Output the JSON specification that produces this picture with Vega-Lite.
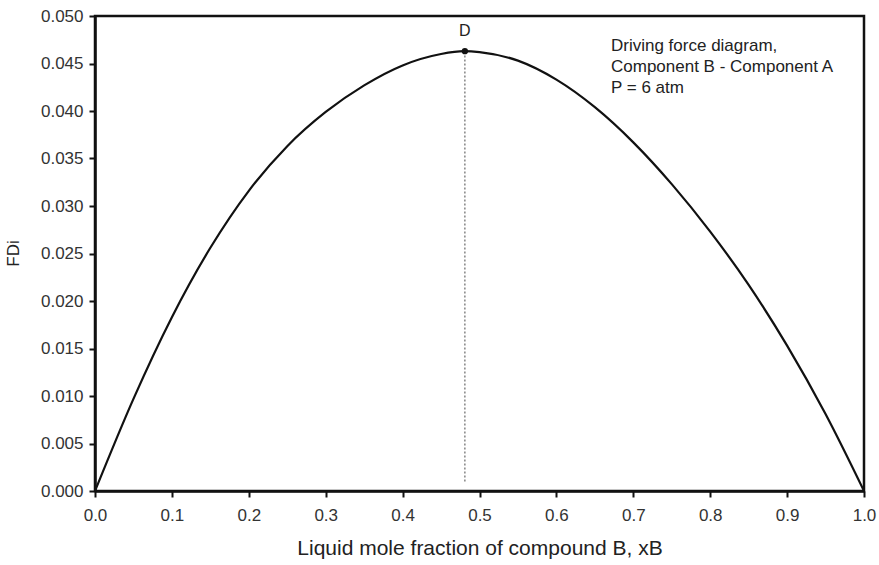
{
  "$schema": "https://vega.github.io/schema/vega-lite/v6.json",
  "autosize": {"type": "none"},
  "width": 769,
  "height": 475,
  "padding": {"left": 95, "top": 16, "right": 15, "bottom": 74},
  "background": "white",
  "config": {
    "view": {"stroke": "#111", "strokeWidth": 2.5},
    "font": "Liberation Sans",
    "axis": {
      "domainColor": "#111", "domainWidth": 2.5, "tickColor": "#111", "tickWidth": 2, "tickSize": 6,
      "labelFont": "Liberation Sans", "labelFontSize": 17, "labelColor": "#333", "labelFlush": false,
      "titleFont": "Liberation Sans", "titleFontWeight": "normal", "titleColor": "#222",
      "grid": false
    }
  },
  "datasets": {
    "curve": [
      {"xB": 0.00, "FDi": 0.0},
      {"xB": 0.05, "FDi": 0.0097},
      {"xB": 0.10, "FDi": 0.0183},
      {"xB": 0.15, "FDi": 0.0256},
      {"xB": 0.20, "FDi": 0.0316},
      {"xB": 0.25, "FDi": 0.0363},
      {"xB": 0.30, "FDi": 0.0399},
      {"xB": 0.35, "FDi": 0.0427},
      {"xB": 0.40, "FDi": 0.0448},
      {"xB": 0.45, "FDi": 0.0460},
      {"xB": 0.48, "FDi": 0.0463},
      {"xB": 0.50, "FDi": 0.0462},
      {"xB": 0.55, "FDi": 0.0453},
      {"xB": 0.60, "FDi": 0.0433},
      {"xB": 0.65, "FDi": 0.0404},
      {"xB": 0.70, "FDi": 0.0367},
      {"xB": 0.75, "FDi": 0.0323},
      {"xB": 0.80, "FDi": 0.0273},
      {"xB": 0.85, "FDi": 0.0217},
      {"xB": 0.90, "FDi": 0.0153},
      {"xB": 0.95, "FDi": 0.0081},
      {"xB": 1.00, "FDi": 0.0}
    ],
    "peak": [{"xB": 0.481, "FDi": 0.0463, "FDi0": 0.001, "label": "D", "labelY": 0.0484}],
    "note": [
      {"xB": 0.671, "FDi": 0.0468, "text": "Driving force diagram,"},
      {"xB": 0.671, "FDi": 0.0446, "text": "Component B - Component A"},
      {"xB": 0.671, "FDi": 0.0424, "text": "P = 6 atm"}
    ]
  },
  "layer": [
    {
      "data": {"name": "curve"},
      "mark": {"type": "line", "color": "#111", "strokeWidth": 2.2, "interpolate": "monotone"},
      "encoding": {
        "x": {"field": "xB", "type": "quantitative",
              "scale": {"domain": [0, 1], "nice": false},
              "axis": {"values": [0, 0.1, 0.2, 0.3, 0.4, 0.5, 0.6, 0.7, 0.8, 0.9, 1.0], "format": ".1f",
                       "labelPadding": 10, "title": "Liquid mole fraction of compound B, xB",
                       "titleFontSize": 21, "titleY": 57, "titleBaseline": "middle"}},
        "y": {"field": "FDi", "type": "quantitative",
              "scale": {"domain": [0, 0.05], "nice": false, "zero": true},
              "axis": {"values": [0, 0.005, 0.01, 0.015, 0.02, 0.025, 0.03, 0.035, 0.04, 0.045, 0.05], "format": ".3f",
                       "labelPadding": 6, "title": "FDi", "titleFontSize": 17,
                       "titleX": -82, "titleY": 237, "titleAngle": -90, "titleAlign": "center", "titleBaseline": "middle"}}
      }
    },
    {
      "data": {"name": "peak"},
      "mark": {"type": "rule", "color": "#666", "strokeWidth": 1.2, "strokeDash": [2, 2]},
      "encoding": {
        "x": {"field": "xB", "type": "quantitative"},
        "y": {"field": "FDi0", "type": "quantitative"},
        "y2": {"field": "FDi"}
      }
    },
    {
      "data": {"name": "peak"},
      "mark": {"type": "point", "filled": true, "color": "#111", "size": 40, "opacity": 1},
      "encoding": {
        "x": {"field": "xB", "type": "quantitative"},
        "y": {"field": "FDi", "type": "quantitative"}
      }
    },
    {
      "data": {"name": "peak"},
      "mark": {"type": "text", "fontSize": 16, "color": "#222", "baseline": "middle", "align": "center"},
      "encoding": {
        "x": {"field": "xB", "type": "quantitative"},
        "y": {"field": "labelY", "type": "quantitative"},
        "text": {"field": "label"}
      }
    },
    {
      "data": {"name": "note"},
      "mark": {"type": "text", "fontSize": 17, "color": "#222", "baseline": "middle", "align": "left"},
      "encoding": {
        "x": {"field": "xB", "type": "quantitative"},
        "y": {"field": "FDi", "type": "quantitative"},
        "text": {"field": "text"}
      }
    }
  ]
}
